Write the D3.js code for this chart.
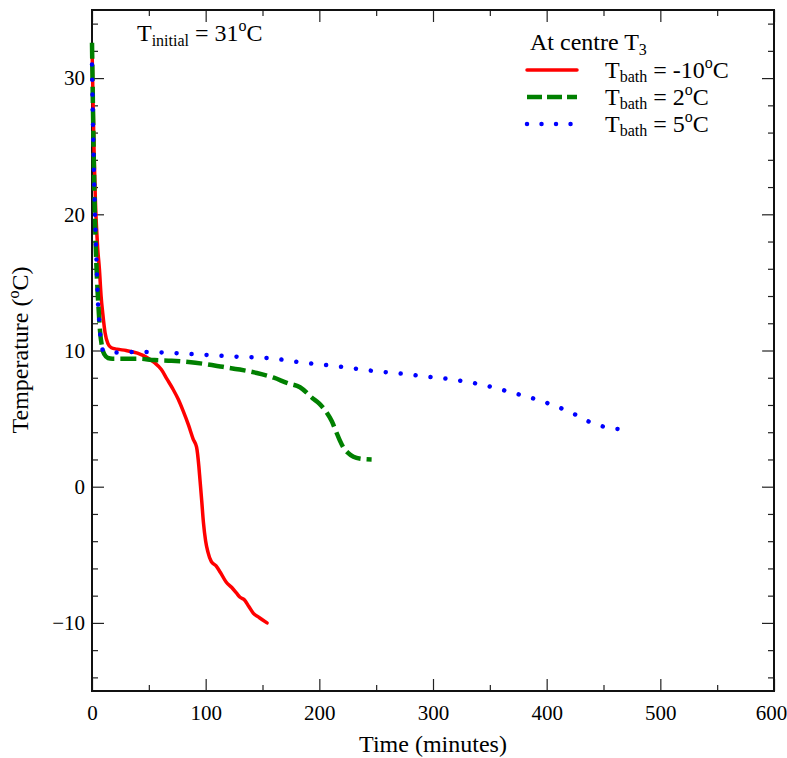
<!DOCTYPE html>
<html>
<head>
<meta charset="utf-8">
<script src="https://cdn.jsdelivr.net/npm/d3@7"></script>
<style>
  body { margin: 0; background: #fff; }
  svg text { font-family: "Liberation Serif", "DejaVu Serif", serif; fill: #000; }
  .axis text { font-size: 21px; }
  .axis line { stroke: #222; stroke-width: 1.2; }
</style>
</head>
<body>
<div id="chart"></div>
<script>
// ticks
var xTicks = [0, 100, 200, 300, 400, 500, 600];
var xMinorTicks = [50, 150, 250, 350, 450, 550];
var yTicks = [-10, 0, 10, 20, 30];
var yMinorTicks = [-14, -12, -8, -6, -4, -2, 2, 4, 6, 8, 12, 14, 16, 18, 22, 24, 26, 28, 32, 34];

// [time (min), temperature (C)]
var bathMinus10 = [
  [0, 32.4], [1, 28], [2, 24], [3, 21], [4, 19], [5, 17.5], [6.5, 16], [8, 14], [9.5, 12.7],
  [11.5, 11.3], [14, 10.5], [17, 10.2], [22, 10.1], [30, 10.0], [40, 9.8], [48, 9.5], [55, 9.1],
  [61, 8.6], [66, 7.9], [71, 7.2], [76, 6.4], [80, 5.6], [85, 4.5], [89, 3.5], [92, 2.9],
  [94, 1.5], [95, 0.5], [96.5, -1], [98, -2.6], [100, -4], [102, -4.8], [105, -5.5], [109, -5.8],
  [113, -6.3], [118, -7.0], [123, -7.4], [127, -7.8], [130, -8.1], [134, -8.3], [138, -8.8],
  [142, -9.3], [147, -9.6], [154, -10.0]
];
var bath2 = [
  [0, 32.6], [1, 27], [2, 22], [3, 18.5], [4, 16], [5.5, 13.5], [7, 11.5], [9, 10.2], [11, 9.7],
  [14, 9.45], [18, 9.4], [25, 9.4], [40, 9.4], [55, 9.3], [70, 9.25], [85, 9.15], [100, 9.0],
  [115, 8.8], [130, 8.6], [145, 8.35], [160, 8.0], [172, 7.6], [183, 7.3], [194, 6.5],
  [200, 6.1], [206, 5.5], [211, 4.8], [215, 4.0], [218, 3.4], [221, 2.9], [225, 2.5],
  [230, 2.2], [237, 2.05], [246, 2.0]
];
var bath5 = [
  [0, 31], [1, 26], [2, 22], [3, 19], [4, 16.5], [5, 14], [6.5, 12], [8, 10.5], [10, 10.0],
  [17, 9.85], [44, 9.9], [75, 9.8], [101, 9.67], [127, 9.55], [154, 9.45], [187, 9.1],
  [220, 8.8], [253, 8.45], [267, 8.35], [293, 8.1], [319, 7.85], [345, 7.45], [370, 6.9],
  [395, 6.3], [420, 5.5], [444, 4.55], [457, 4.3], [470, 4.2]
];

var series = [
  { label: "-10", values: bathMinus10, color: "#ff0000", width: 3.5, dash: null, legendDash: null, cap: "round" },
  { label: "2", values: bath2, color: "#008000", width: 4.5, dash: "16,6", legendDash: "15,5", cap: "butt" },
  { label: "5", values: bath5, color: "#0000ff", width: 4.5, dash: "0.01,15", legendDash: "0.01,14.5", cap: "round" }
];

var W = 787, H = 758;
var margin = { top: 10, right: 13, bottom: 67, left: 92 };
var width = W - margin.left - margin.right;
var height = H - margin.top - margin.bottom;

var svg = d3.select("#chart").append("svg")
  .attr("width", W)
  .attr("height", H);

var g = svg.append("g").attr("transform", "translate(" + margin.left + "," + margin.top + ")");

var x = d3.scaleLinear().domain([0, 600]).range([0, width]);
var y = d3.scaleLinear().domain([-15, 35]).range([height, 0]);

// axes, ticks inside
var gx = g.append("g").attr("class", "axis")
  .attr("transform", "translate(0," + height + ")")
  .call(d3.axisBottom(x).tickValues(xTicks).tickSizeInner(-12).tickSizeOuter(0).tickPadding(14).tickFormat(d3.format("d")));
// keep the last label inside the page
gx.selectAll(".tick text").filter(function(d) { return d === 600; }).attr("dx", -3);

g.append("g").attr("class", "axis")
  .attr("transform", "translate(0," + height + ")")
  .call(d3.axisBottom(x).tickValues(xMinorTicks).tickSizeInner(-6).tickSizeOuter(0).tickFormat(""));
g.append("g").attr("class", "axis")
  .call(d3.axisTop(x).tickValues(xTicks).tickSizeInner(-12).tickSizeOuter(0).tickFormat(""));
g.append("g").attr("class", "axis")
  .call(d3.axisTop(x).tickValues(xMinorTicks).tickSizeInner(-6).tickSizeOuter(0).tickFormat(""));

g.append("g").attr("class", "axis")
  .call(d3.axisLeft(y).tickValues(yTicks).tickSizeInner(-12).tickSizeOuter(0).tickPadding(7));
g.append("g").attr("class", "axis")
  .call(d3.axisLeft(y).tickValues(yMinorTicks).tickSizeInner(-6).tickSizeOuter(0).tickFormat(""));
g.append("g").attr("class", "axis")
  .attr("transform", "translate(" + width + ",0)")
  .call(d3.axisRight(y).tickValues(yTicks).tickSizeInner(-12).tickSizeOuter(0).tickFormat(""));
g.append("g").attr("class", "axis")
  .attr("transform", "translate(" + width + ",0)")
  .call(d3.axisRight(y).tickValues(yMinorTicks).tickSizeInner(-6).tickSizeOuter(0).tickFormat(""));

g.selectAll(".axis .domain").remove();

// frame
g.append("rect")
  .attr("width", width)
  .attr("height", height)
  .attr("fill", "none")
  .attr("stroke", "#111")
  .attr("stroke-width", 2);

// lines
var line = d3.line()
  .curve(d3.curveMonotoneX)
  .x(function(d) { return x(d[0]); })
  .y(function(d) { return y(d[1]); });

g.selectAll(".series")
  .data(series)
  .enter().append("path")
  .attr("class", "series")
  .attr("d", function(d) { return line(d.values); })
  .attr("fill", "none")
  .attr("stroke", function(d) { return d.color; })
  .attr("stroke-width", function(d) { return d.width; })
  .attr("stroke-dasharray", function(d) { return d.dash; })
  .attr("stroke-linecap", function(d) { return d.cap; })
  .attr("stroke-linejoin", "round");

// axis titles
svg.append("text")
  .attr("x", margin.left + width / 2)
  .attr("y", 752)
  .attr("text-anchor", "middle")
  .style("font-size", "24px")
  .text("Time (minutes)");

var yt = svg.append("text")
  .attr("transform", "translate(28,350) rotate(-90)")
  .attr("text-anchor", "middle")
  .style("font-size", "24px");
yt.append("tspan").text("Temperature (");
yt.append("tspan").attr("dy", -9).style("font-size", "16px").text("o");
yt.append("tspan").attr("dy", 9).text("C)");

// T initial note
var ti = svg.append("text").attr("x", 137).attr("y", 41).style("font-size", "24px");
ti.append("tspan").text("T");
ti.append("tspan").attr("dy", 5).style("font-size", "16px").text("initial");
ti.append("tspan").attr("dy", -5).text(" = 31");
ti.append("tspan").attr("dy", -10).style("font-size", "16px").text("o");
ti.append("tspan").attr("dy", 10).text("C");

// legend
var lg = svg.append("g").attr("transform", "translate(527,0)");
var lt = lg.append("text").attr("x", 3).attr("y", 50).style("font-size", "24px");
lt.append("tspan").text("At centre T");
lt.append("tspan").attr("dy", 5).style("font-size", "16px").text("3");

var item = lg.selectAll(".item")
  .data(series)
  .enter().append("g")
  .attr("class", "item")
  .attr("transform", function(d, i) { return "translate(0," + (78 + i * 27) + ")"; });

item.append("line")
  .attr("x1", 0)
  .attr("x2", 50)
  .attr("y1", -8).attr("y2", -8)
  .attr("stroke", function(d) { return d.color; })
  .attr("stroke-width", function(d) { return d.width; })
  .attr("stroke-dasharray", function(d) { return d.legendDash; })
  .attr("stroke-linecap", function(d) { return d.cap; });

var itxt = item.append("text").attr("x", 78).attr("y", 0).style("font-size", "24px");
itxt.append("tspan").text("T");
itxt.append("tspan").attr("dy", 4).style("font-size", "16px").text("bath");
itxt.append("tspan").attr("dy", -4).text(function(d) { return " = " + d.label; });
itxt.append("tspan").attr("dy", -10).style("font-size", "16px").text("o");
itxt.append("tspan").attr("dy", 10).text("C");
</script>
</body>
</html>
